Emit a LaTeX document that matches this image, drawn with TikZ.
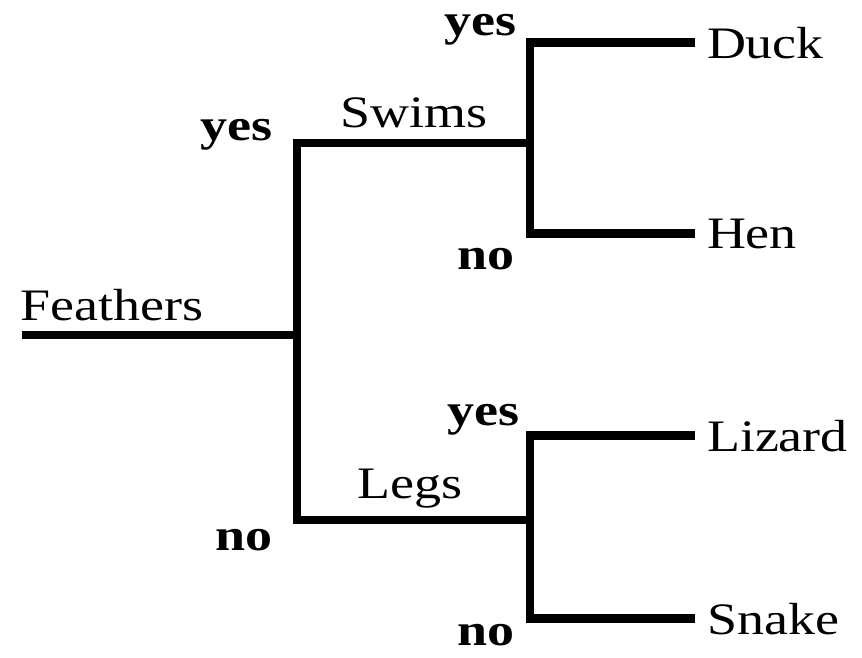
\documentclass[tikz,border=0pt]{standalone}
\usepackage{fontspec}
\setmainfont[FakeStretch=1.2]{Liberation Serif}
\usepackage{tikz}
\usetikzlibrary{positioning}

\begin{document}
\begin{tikzpicture}[x=1pt, y=-1pt,
  branch/.style={line width=8.5pt, line join=miter},
  leaf/.style={anchor=base west, inner sep=0pt, outer sep=12pt, font=\fontsize{45}{50}\selectfont},
  test/.style={anchor=base west, inner sep=0pt, font=\fontsize{45}{50}\selectfont},
  answer/.style={anchor=base east, inner sep=0pt, font=\fontsize{45}{50}\selectfont\bfseries}]

\useasboundingbox (0,0) rectangle (862,657);

% junctions of the tree
\coordinate (root) at (22,335);
\coordinate (fork) at (297,335);
\coordinate (swims) at (530,143);
\coordinate (legs) at (530,520);

% leaves
\foreach \n/\t/\y in {duck/Duck/58, hen/Hen/248, lizard/Lizard/451, snake/Snake/634}
  \node [leaf] (\n) at (695,\y) {\t};

% tests
\node [test] (feathers) at (20,320) {Feathers};
\node [test] (swims-l) at (340,127) {Swims};
\node [test] (legs-l) at (357,498) {Legs};

% branches
\draw [branch] (root) -- (fork);
\draw [branch] (swims) -| (fork) |- (legs);
\draw [branch] (duck.west) -| (swims) |- (hen.west);
\draw [branch] (lizard.west) -| (legs) |- (snake.west);

% answers
\foreach \a/\x/\y [count=\i] in {yes/273/140, no/273/550, yes/517/35, no/515/269, yes/520/425, no/515/645}
  \node [answer] (ans-\i) at (\x,\y) {\a};
\end{tikzpicture}
\end{document}
